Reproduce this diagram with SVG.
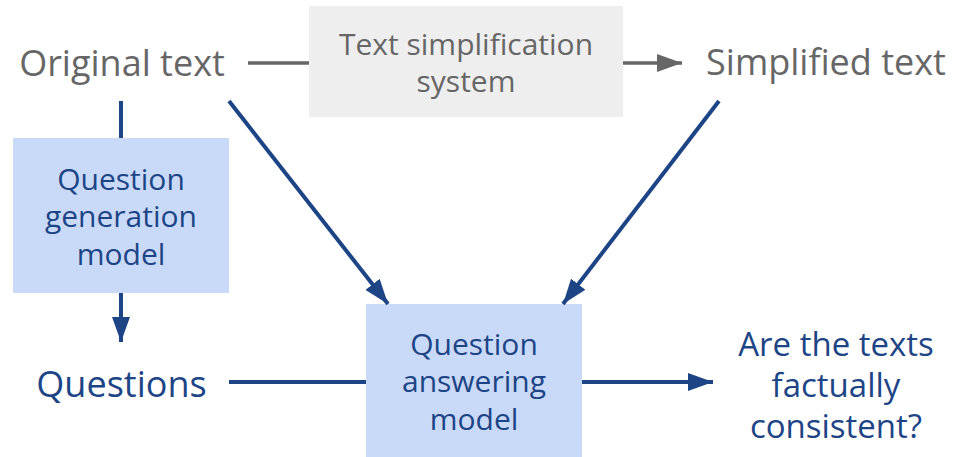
<svg xmlns="http://www.w3.org/2000/svg" width="957" height="457" viewBox="0 0 957 457">
<defs>
<style>
text{font-family:"Open Sans","Noto Sans","DejaVu Sans",sans-serif;text-anchor:middle}
.g{fill:#666666}
.b{fill:#1d4586}
.lbl{font-size:36px}
.box{font-size:30px}
.q{font-size:33px}
.gl{stroke:#666666;stroke-width:3.5;fill:none}
.bl{stroke:#1d4586;stroke-width:4;fill:none}
</style>
<marker id="ag" viewBox="0 0 25 18" refX="25" refY="9" markerWidth="25" markerHeight="18" markerUnits="userSpaceOnUse" orient="auto"><path d="M0,0L25,9L0,18z" fill="#666666"/></marker>
<marker id="ab" viewBox="0 0 25 18" refX="25" refY="9" markerWidth="25" markerHeight="18" markerUnits="userSpaceOnUse" orient="auto"><path d="M0,0L25,9L0,18z" fill="#1d4586"/></marker>
</defs>
<rect width="957" height="457" fill="#ffffff"/>
<g id="original"><text class="g lbl" x="122" y="76">Original text</text></g>
<g id="tss"><rect x="309" y="6" width="314" height="111" fill="#eeeeee"/><text class="g box" x="466" y="55">Text simplification</text><text class="g box" x="466" y="92">system</text></g>
<g id="simplified"><text class="g lbl" x="826" y="75">Simplified text</text></g>
<g id="qg"><rect x="13" y="138" width="216" height="155" fill="#c9daf8"/><text class="b box" x="121" y="190">Question</text><text class="b box" x="121" y="227">generation</text><text class="b box" x="121" y="265">model</text></g>
<g id="questions"><text class="b lbl" x="121.5" y="397">Questions</text></g>
<g id="qa"><rect x="366" y="304" width="216" height="153" fill="#c9daf8"/><text class="b box" x="474" y="355">Question</text><text class="b box" x="474" y="392">answering</text><text class="b box" x="474" y="430">model</text></g>
<g id="result"><text class="b q" x="836" y="356">Are the texts</text><text class="b q" x="836" y="397">factually</text><text class="b q" x="836" y="438">consistent?</text></g>
<g id="connectors">
<line class="gl" x1="248" y1="63" x2="309" y2="63"/>
<line class="gl" x1="623" y1="63" x2="682" y2="63" marker-end="url(#ag)"/>
<line class="bl" x1="121" y1="101" x2="121" y2="138"/>
<line class="bl" x1="121" y1="293" x2="121" y2="342" marker-end="url(#ab)"/>
<line class="bl" x1="229" y1="101" x2="388" y2="304" marker-end="url(#ab)"/>
<line class="bl" x1="719" y1="101" x2="563" y2="304" marker-end="url(#ab)"/>
<line class="bl" x1="229" y1="382" x2="366" y2="382"/>
<line class="bl" x1="582" y1="382" x2="713" y2="382" marker-end="url(#ab)"/>
</g>
</svg>
